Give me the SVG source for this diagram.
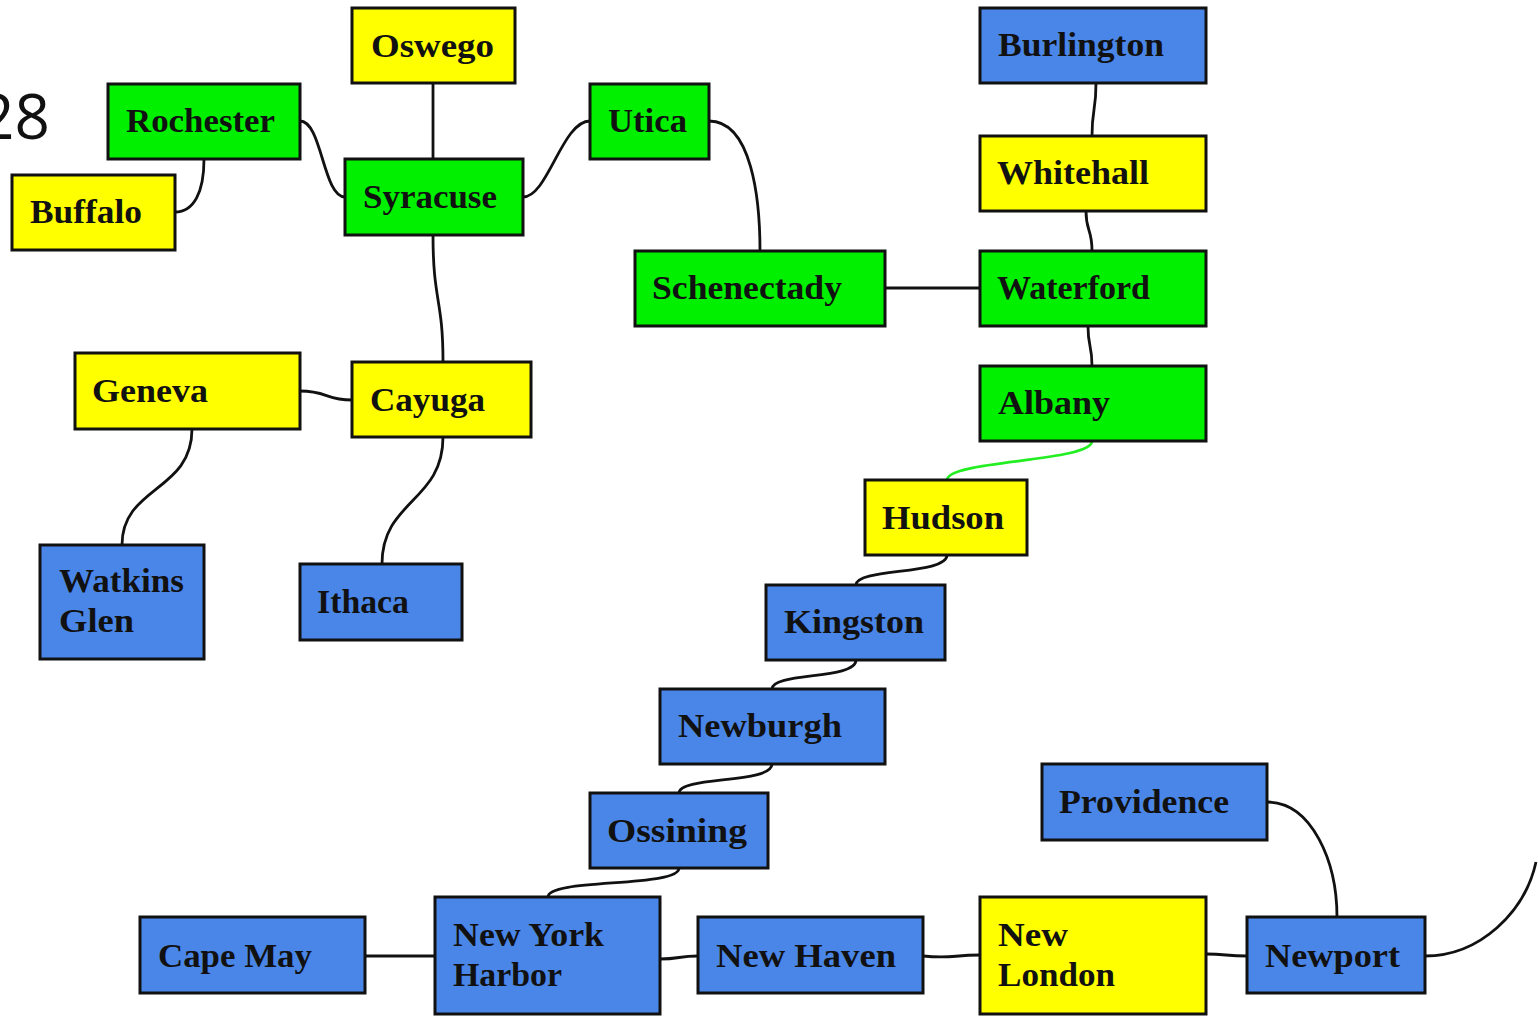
<svg xmlns="http://www.w3.org/2000/svg" width="1538" height="1016" viewBox="0 0 1538 1016">
<style>
.n rect{stroke:#111;stroke-width:3}
.g rect{fill:#00f000}
.y rect{fill:#ffff00}
.b rect{fill:#4a86e8}
.n text{font-family:"Liberation Serif","Times New Roman",serif;font-weight:bold;font-size:33px;fill:#111}
#edges path{fill:none;stroke:#111;stroke-width:2.8}
#edges path.hl{stroke:#22ee22}
</style>
<rect width="1538" height="1016" fill="#fff"/>
<text x="50" y="139" text-anchor="end" font-family="'Open Sans',sans-serif" font-size="62" fill="#111">28</text>
<g id="edges">
<path d="M433,83 L433,159"/>
<path d="M300,121 C322,121 323,197 345,197"/>
<path d="M204,159 C204,192 194,212 175,212"/>
<path d="M523,197 C548,197 562,121 590,121"/>
<path d="M709,121 C752,121 760,200 760,251"/>
<path d="M1096,83 C1096,112 1092,108 1092,136"/>
<path d="M1086,211 C1086,232 1092,228 1092,251"/>
<path d="M885,288 L980,288"/>
<path d="M1088,326 C1088,348 1092,344 1092,366"/>
<path class="hl" d="M1092,441 C1092,462 947,460 947,480"/>
<path d="M433,235 C433,302 443,298 443,362"/>
<path d="M300,391 C327,391 326,400 352,400"/>
<path d="M192,429 C192,492 122,486 122,545"/>
<path d="M443,437 C443,502 382,500 382,564"/>
<path d="M947,555 C947,575 856,568 856,585"/>
<path d="M856,660 C856,680 772,672 772,689"/>
<path d="M772,764 C772,784 679,776 679,793"/>
<path d="M679,868 C679,888 548,878 548,897"/>
<path d="M365,956 L435,956"/>
<path d="M660,959 C680,959 678,956 698,956"/>
<path d="M923,956 C952,959 952,955 980,955"/>
<path d="M1206,954 C1226,954 1226,956 1247,956"/>
<path d="M1267,802 C1312,802 1337,862 1337,917"/>
<path d="M1425,956 C1480,956 1525,912 1536,862"/>
</g>
<g id="oswego" class="n y"><rect x="352" y="8" width="163" height="75"/><text x="371" y="57" textLength="123" lengthAdjust="spacingAndGlyphs">Oswego</text></g>
<g id="rochester" class="n g"><rect x="108" y="84" width="192" height="75"/><text x="126" y="132" textLength="149" lengthAdjust="spacingAndGlyphs">Rochester</text></g>
<g id="buffalo" class="n y"><rect x="12" y="175" width="163" height="75"/><text x="30" y="223" textLength="112" lengthAdjust="spacingAndGlyphs">Buffalo</text></g>
<g id="syracuse" class="n g"><rect x="345" y="159" width="178" height="76"/><text x="363" y="208" textLength="134" lengthAdjust="spacingAndGlyphs">Syracuse</text></g>
<g id="utica" class="n g"><rect x="590" y="84" width="119" height="75"/><text x="608" y="132" textLength="79" lengthAdjust="spacingAndGlyphs">Utica</text></g>
<g id="burlington" class="n b"><rect x="980" y="8" width="226" height="75"/><text x="998" y="56" textLength="166" lengthAdjust="spacingAndGlyphs">Burlington</text></g>
<g id="whitehall" class="n y"><rect x="980" y="136" width="226" height="75"/><text x="997" y="184" textLength="152" lengthAdjust="spacingAndGlyphs">Whitehall</text></g>
<g id="schenectady" class="n g"><rect x="635" y="251" width="250" height="75"/><text x="652" y="299" textLength="190" lengthAdjust="spacingAndGlyphs">Schenectady</text></g>
<g id="waterford" class="n g"><rect x="980" y="251" width="226" height="75"/><text x="997" y="299" textLength="153" lengthAdjust="spacingAndGlyphs">Waterford</text></g>
<g id="albany" class="n g"><rect x="980" y="366" width="226" height="75"/><text x="998" y="414" textLength="112" lengthAdjust="spacingAndGlyphs">Albany</text></g>
<g id="geneva" class="n y"><rect x="75" y="353" width="225" height="76"/><text x="92" y="402" textLength="116" lengthAdjust="spacingAndGlyphs">Geneva</text></g>
<g id="cayuga" class="n y"><rect x="352" y="362" width="179" height="75"/><text x="370" y="411" textLength="115" lengthAdjust="spacingAndGlyphs">Cayuga</text></g>
<g id="hudson" class="n y"><rect x="865" y="480" width="162" height="75"/><text x="882" y="529" textLength="122" lengthAdjust="spacingAndGlyphs">Hudson</text></g>
<g id="watkins-glen" class="n b"><rect x="40" y="545" width="164" height="114"/><text x="59" y="592" textLength="125" lengthAdjust="spacingAndGlyphs">Watkins</text><text x="59" y="632" textLength="75" lengthAdjust="spacingAndGlyphs">Glen</text></g>
<g id="ithaca" class="n b"><rect x="300" y="564" width="162" height="76"/><text x="317" y="613" textLength="92" lengthAdjust="spacingAndGlyphs">Ithaca</text></g>
<g id="kingston" class="n b"><rect x="766" y="585" width="179" height="75"/><text x="784" y="633" textLength="140" lengthAdjust="spacingAndGlyphs">Kingston</text></g>
<g id="newburgh" class="n b"><rect x="660" y="689" width="225" height="75"/><text x="678" y="737" textLength="164" lengthAdjust="spacingAndGlyphs">Newburgh</text></g>
<g id="ossining" class="n b"><rect x="590" y="793" width="178" height="75"/><text x="607" y="842" textLength="140" lengthAdjust="spacingAndGlyphs">Ossining</text></g>
<g id="providence" class="n b"><rect x="1042" y="764" width="225" height="76"/><text x="1059" y="813" textLength="170" lengthAdjust="spacingAndGlyphs">Providence</text></g>
<g id="cape-may" class="n b"><rect x="140" y="917" width="225" height="76"/><text x="158" y="967" textLength="154" lengthAdjust="spacingAndGlyphs">Cape May</text></g>
<g id="new-york-harbor" class="n b"><rect x="435" y="897" width="225" height="117"/><text x="453" y="946" textLength="151" lengthAdjust="spacingAndGlyphs">New York</text><text x="453" y="986" textLength="109" lengthAdjust="spacingAndGlyphs">Harbor</text></g>
<g id="new-haven" class="n b"><rect x="698" y="917" width="225" height="76"/><text x="716" y="967" textLength="180" lengthAdjust="spacingAndGlyphs">New Haven</text></g>
<g id="new-london" class="n y"><rect x="980" y="897" width="226" height="117"/><text x="998" y="946" textLength="70" lengthAdjust="spacingAndGlyphs">New</text><text x="998" y="986" textLength="117" lengthAdjust="spacingAndGlyphs">London</text></g>
<g id="newport" class="n b"><rect x="1247" y="917" width="178" height="76"/><text x="1265" y="967" textLength="135" lengthAdjust="spacingAndGlyphs">Newport</text></g>
</svg>
